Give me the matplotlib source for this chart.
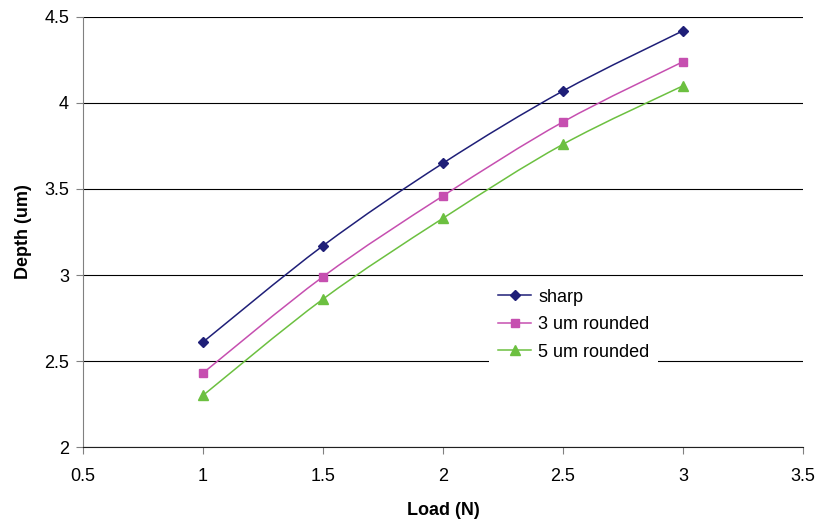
import matplotlib.pyplot as plt
import numpy as np
from matplotlib.path import Path
from matplotlib.patches import PathPatch

plt.rcParams['font.family'] = ['Liberation Sans', 'DejaVu Sans']

loads = [1, 1.5, 2, 2.5, 3]
sharp = [2.61, 3.17, 3.65, 4.07, 4.42]
rounded_3um = [2.43, 2.99, 3.46, 3.89, 4.24]
rounded_5um = [2.30, 2.86, 3.33, 3.76, 4.10]

series = [
    ('sharp', sharp, '#1f1f78', 'D', 5),
    ('3 um rounded', rounded_3um, '#c64fb0', 's', 5.5),
    ('5 um rounded', rounded_5um, '#6cc040', '^', 7),
]


def smooth_path(x, y):
    # Excel-style smoothed line: Catmull-Rom segments as cubic Bezier curves
    x = np.asarray(x, float)
    y = np.asarray(y, float)
    verts = [(x[0], y[0])]
    codes = [Path.MOVETO]
    n = len(x)
    for i in range(n - 1):
        p0 = (x[max(i - 1, 0)], y[max(i - 1, 0)])
        p1 = (x[i], y[i])
        p2 = (x[i + 1], y[i + 1])
        p3 = (x[min(i + 2, n - 1)], y[min(i + 2, n - 1)])
        c1 = (p1[0] + (p2[0] - p0[0]) / 6, p1[1] + (p2[1] - p0[1]) / 6)
        c2 = (p2[0] - (p3[0] - p1[0]) / 6, p2[1] - (p3[1] - p1[1]) / 6)
        verts += [c1, c2, p2]
        codes += [Path.CURVE4] * 3
    return Path(verts, codes)


fig = plt.figure(figsize=(8.19, 5.21), dpi=100)
ax = fig.add_axes([0.1013, 0.142, 0.8792, 0.8254])

for label, vals, color, marker, ms in series:
    ax.add_patch(PathPatch(smooth_path(loads, vals), facecolor='none',
                           edgecolor=color, lw=1.1, zorder=3))
    ax.plot(loads, vals, color=color, lw=1.1, marker=marker, ms=ms,
            linestyle='none', zorder=4)
    ax.plot([], [], color=color, lw=1.1, marker=marker, ms=ms, label=label)

ax.set_xlim(0.5, 3.5)
ax.set_ylim(2, 4.5)
ax.set_xticks(np.arange(0.5, 3.51, 0.5))
ax.set_yticks(np.arange(2, 4.51, 0.5))
ax.set_xticklabels(['0.5', '1', '1.5', '2', '2.5', '3', '3.5'])
ax.set_yticklabels(['2', '2.5', '3', '3.5', '4', '4.5'])
ax.grid(axis='y', color='black', lw=0.8)
ax.set_axisbelow(True)
for side in ['top', 'right']:
    ax.spines[side].set_visible(False)
ax.spines['left'].set_color('#808080')
ax.spines['bottom'].set_color('#202020')
ax.tick_params(axis='both', labelsize=13, length=5, color='#808080')
ax.tick_params(axis='x', pad=10)
ax.tick_params(axis='y', pad=5)
ax.set_xlabel('Load (N)', fontsize=13, fontweight='bold', labelpad=12)
ax.set_ylabel('Depth (um)', fontsize=13, fontweight='bold', labelpad=9)

leg = ax.legend(loc='upper left', bbox_to_anchor=(0.552, 0.41), fontsize=13,
                frameon=True, fancybox=False, edgecolor='none',
                handlelength=1.8, handletextpad=0.4, labelspacing=0.58,
                borderpad=0.5)
leg.get_frame().set_facecolor('white')
leg.get_frame().set_alpha(1)
leg.set_zorder(5)

fig.savefig('out.png', dpi=100)
